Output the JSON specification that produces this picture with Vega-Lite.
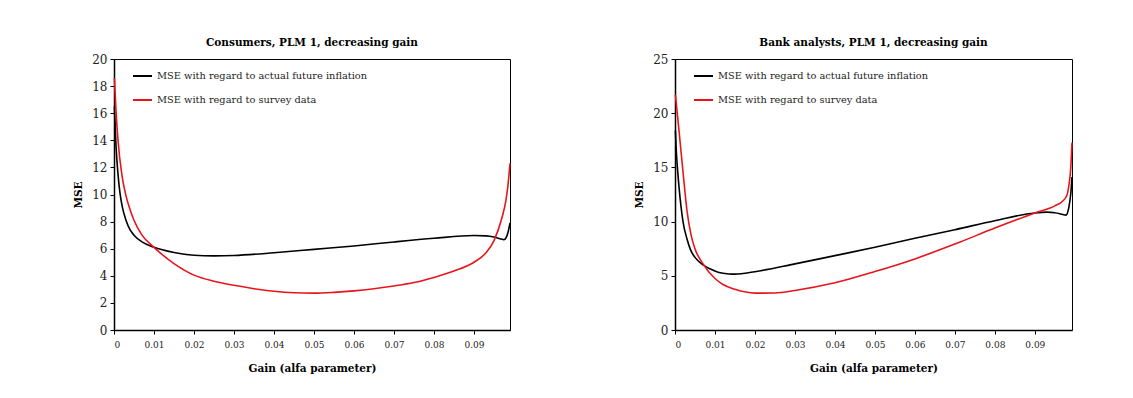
{
  "$schema": "https://vega.github.io/schema/vega-lite/v6.json",
  "padding": {"left": 73, "top": 37, "right": 5, "bottom": 5},
  "spacing": 120,
  "background": "white",
  "datasets": {
    "consumers": [
      {"gain": 0.0001, "mse": 16.5, "series": "MSE with regard to actual future inflation"},
      {"gain": 0.0005, "mse": 13.6, "series": "MSE with regard to actual future inflation"},
      {"gain": 0.001, "mse": 11.5, "series": "MSE with regard to actual future inflation"},
      {"gain": 0.0015, "mse": 10.1, "series": "MSE with regard to actual future inflation"},
      {"gain": 0.002, "mse": 9.2, "series": "MSE with regard to actual future inflation"},
      {"gain": 0.003, "mse": 8.1, "series": "MSE with regard to actual future inflation"},
      {"gain": 0.004, "mse": 7.4, "series": "MSE with regard to actual future inflation"},
      {"gain": 0.005, "mse": 7.0, "series": "MSE with regard to actual future inflation"},
      {"gain": 0.007, "mse": 6.5, "series": "MSE with regard to actual future inflation"},
      {"gain": 0.01, "mse": 6.1, "series": "MSE with regard to actual future inflation"},
      {"gain": 0.015, "mse": 5.72, "series": "MSE with regard to actual future inflation"},
      {"gain": 0.02, "mse": 5.52, "series": "MSE with regard to actual future inflation"},
      {"gain": 0.025, "mse": 5.47, "series": "MSE with regard to actual future inflation"},
      {"gain": 0.03, "mse": 5.5, "series": "MSE with regard to actual future inflation"},
      {"gain": 0.04, "mse": 5.7, "series": "MSE with regard to actual future inflation"},
      {"gain": 0.05, "mse": 5.95, "series": "MSE with regard to actual future inflation"},
      {"gain": 0.06, "mse": 6.2, "series": "MSE with regard to actual future inflation"},
      {"gain": 0.07, "mse": 6.5, "series": "MSE with regard to actual future inflation"},
      {"gain": 0.08, "mse": 6.77, "series": "MSE with regard to actual future inflation"},
      {"gain": 0.09, "mse": 6.97, "series": "MSE with regard to actual future inflation"},
      {"gain": 0.093, "mse": 6.95, "series": "MSE with regard to actual future inflation"},
      {"gain": 0.095, "mse": 6.86, "series": "MSE with regard to actual future inflation"},
      {"gain": 0.0965, "mse": 6.74, "series": "MSE with regard to actual future inflation"},
      {"gain": 0.0975, "mse": 6.67, "series": "MSE with regard to actual future inflation"},
      {"gain": 0.098, "mse": 6.8, "series": "MSE with regard to actual future inflation"},
      {"gain": 0.0985, "mse": 7.2, "series": "MSE with regard to actual future inflation"},
      {"gain": 0.099, "mse": 7.9, "series": "MSE with regard to actual future inflation"},
      {"gain": 0.0001, "mse": 18.6, "series": "MSE with regard to survey data"},
      {"gain": 0.0005, "mse": 16.2, "series": "MSE with regard to survey data"},
      {"gain": 0.001, "mse": 14.0, "series": "MSE with regard to survey data"},
      {"gain": 0.002, "mse": 11.4, "series": "MSE with regard to survey data"},
      {"gain": 0.003, "mse": 9.9, "series": "MSE with regard to survey data"},
      {"gain": 0.004, "mse": 8.9, "series": "MSE with regard to survey data"},
      {"gain": 0.005, "mse": 8.1, "series": "MSE with regard to survey data"},
      {"gain": 0.007, "mse": 7.0, "series": "MSE with regard to survey data"},
      {"gain": 0.01, "mse": 6.1, "series": "MSE with regard to survey data"},
      {"gain": 0.015, "mse": 4.9, "series": "MSE with regard to survey data"},
      {"gain": 0.02, "mse": 4.05, "series": "MSE with regard to survey data"},
      {"gain": 0.025, "mse": 3.6, "series": "MSE with regard to survey data"},
      {"gain": 0.03, "mse": 3.3, "series": "MSE with regard to survey data"},
      {"gain": 0.035, "mse": 3.05, "series": "MSE with regard to survey data"},
      {"gain": 0.04, "mse": 2.86, "series": "MSE with regard to survey data"},
      {"gain": 0.045, "mse": 2.75, "series": "MSE with regard to survey data"},
      {"gain": 0.05, "mse": 2.72, "series": "MSE with regard to survey data"},
      {"gain": 0.055, "mse": 2.78, "series": "MSE with regard to survey data"},
      {"gain": 0.06, "mse": 2.89, "series": "MSE with regard to survey data"},
      {"gain": 0.065, "mse": 3.05, "series": "MSE with regard to survey data"},
      {"gain": 0.07, "mse": 3.25, "series": "MSE with regard to survey data"},
      {"gain": 0.075, "mse": 3.5, "series": "MSE with regard to survey data"},
      {"gain": 0.08, "mse": 3.88, "series": "MSE with regard to survey data"},
      {"gain": 0.085, "mse": 4.35, "series": "MSE with regard to survey data"},
      {"gain": 0.09, "mse": 5.0, "series": "MSE with regard to survey data"},
      {"gain": 0.093, "mse": 5.7, "series": "MSE with regard to survey data"},
      {"gain": 0.095, "mse": 6.6, "series": "MSE with regard to survey data"},
      {"gain": 0.097, "mse": 8.3, "series": "MSE with regard to survey data"},
      {"gain": 0.098, "mse": 9.6, "series": "MSE with regard to survey data"},
      {"gain": 0.0985, "mse": 10.7, "series": "MSE with regard to survey data"},
      {"gain": 0.099, "mse": 12.3, "series": "MSE with regard to survey data"}
    ],
    "banks": [
      {"gain": 0.0001, "mse": 18.4, "series": "MSE with regard to actual future inflation"},
      {"gain": 0.0003, "mse": 16.7, "series": "MSE with regard to actual future inflation"},
      {"gain": 0.0006, "mse": 15.0, "series": "MSE with regard to actual future inflation"},
      {"gain": 0.001, "mse": 13.2, "series": "MSE with regard to actual future inflation"},
      {"gain": 0.0015, "mse": 11.4, "series": "MSE with regard to actual future inflation"},
      {"gain": 0.002, "mse": 10.0, "series": "MSE with regard to actual future inflation"},
      {"gain": 0.003, "mse": 8.4, "series": "MSE with regard to actual future inflation"},
      {"gain": 0.004, "mse": 7.3, "series": "MSE with regard to actual future inflation"},
      {"gain": 0.005, "mse": 6.7, "series": "MSE with regard to actual future inflation"},
      {"gain": 0.007, "mse": 6.0, "series": "MSE with regard to actual future inflation"},
      {"gain": 0.009, "mse": 5.6, "series": "MSE with regard to actual future inflation"},
      {"gain": 0.011, "mse": 5.3, "series": "MSE with regard to actual future inflation"},
      {"gain": 0.0135, "mse": 5.17, "series": "MSE with regard to actual future inflation"},
      {"gain": 0.015, "mse": 5.15, "series": "MSE with regard to actual future inflation"},
      {"gain": 0.02, "mse": 5.38, "series": "MSE with regard to actual future inflation"},
      {"gain": 0.03, "mse": 6.1, "series": "MSE with regard to actual future inflation"},
      {"gain": 0.04, "mse": 6.86, "series": "MSE with regard to actual future inflation"},
      {"gain": 0.05, "mse": 7.63, "series": "MSE with regard to actual future inflation"},
      {"gain": 0.06, "mse": 8.46, "series": "MSE with regard to actual future inflation"},
      {"gain": 0.07, "mse": 9.25, "series": "MSE with regard to actual future inflation"},
      {"gain": 0.08, "mse": 10.08, "series": "MSE with regard to actual future inflation"},
      {"gain": 0.09, "mse": 10.8, "series": "MSE with regard to actual future inflation"},
      {"gain": 0.093, "mse": 10.87, "series": "MSE with regard to actual future inflation"},
      {"gain": 0.095, "mse": 10.82, "series": "MSE with regard to actual future inflation"},
      {"gain": 0.097, "mse": 10.66, "series": "MSE with regard to actual future inflation"},
      {"gain": 0.0978, "mse": 10.6, "series": "MSE with regard to actual future inflation"},
      {"gain": 0.0985, "mse": 11.3, "series": "MSE with regard to actual future inflation"},
      {"gain": 0.099, "mse": 12.6, "series": "MSE with regard to actual future inflation"},
      {"gain": 0.0993, "mse": 14.1, "series": "MSE with regard to actual future inflation"},
      {"gain": 0.0001, "mse": 21.7, "series": "MSE with regard to survey data"},
      {"gain": 0.001, "mse": 18.4, "series": "MSE with regard to survey data"},
      {"gain": 0.002, "mse": 14.6, "series": "MSE with regard to survey data"},
      {"gain": 0.003, "mse": 11.0, "series": "MSE with regard to survey data"},
      {"gain": 0.004, "mse": 8.8, "series": "MSE with regard to survey data"},
      {"gain": 0.005, "mse": 7.5, "series": "MSE with regard to survey data"},
      {"gain": 0.007, "mse": 6.1, "series": "MSE with regard to survey data"},
      {"gain": 0.01, "mse": 4.75, "series": "MSE with regard to survey data"},
      {"gain": 0.012, "mse": 4.2, "series": "MSE with regard to survey data"},
      {"gain": 0.015, "mse": 3.75, "series": "MSE with regard to survey data"},
      {"gain": 0.02, "mse": 3.4, "series": "MSE with regard to survey data"},
      {"gain": 0.025, "mse": 3.42, "series": "MSE with regard to survey data"},
      {"gain": 0.03, "mse": 3.65, "series": "MSE with regard to survey data"},
      {"gain": 0.04, "mse": 4.35, "series": "MSE with regard to survey data"},
      {"gain": 0.05, "mse": 5.39, "series": "MSE with regard to survey data"},
      {"gain": 0.06, "mse": 6.56, "series": "MSE with regard to survey data"},
      {"gain": 0.07, "mse": 7.93, "series": "MSE with regard to survey data"},
      {"gain": 0.08, "mse": 9.4, "series": "MSE with regard to survey data"},
      {"gain": 0.09, "mse": 10.8, "series": "MSE with regard to survey data"},
      {"gain": 0.095, "mse": 11.45, "series": "MSE with regard to survey data"},
      {"gain": 0.097, "mse": 11.9, "series": "MSE with regard to survey data"},
      {"gain": 0.098, "mse": 12.4, "series": "MSE with regard to survey data"},
      {"gain": 0.0985, "mse": 13.3, "series": "MSE with regard to survey data"},
      {"gain": 0.099, "mse": 15.0, "series": "MSE with regard to survey data"},
      {"gain": 0.0993, "mse": 17.3, "series": "MSE with regard to survey data"}
    ]
  },
  "hconcat": [
    {
      "width": 396,
      "height": 271,
      "title": "Consumers, PLM 1, decreasing gain",
      "data": {"name": "consumers"},
      "mark": {"type": "line", "interpolate": "monotone", "strokeWidth": 1.6},
      "encoding": {
        "x": {"field": "gain", "type": "quantitative", "title": "Gain (alfa parameter)",
              "scale": {"domain": [0, 0.099], "nice": false, "zero": true},
              "axis": {"values": [0, 0.01, 0.02, 0.03, 0.04, 0.05, 0.06, 0.07, 0.08, 0.09], "format": ".2~f"}},
        "y": {"field": "mse", "type": "quantitative", "title": "MSE",
              "scale": {"domain": [0, 20], "nice": false},
              "axis": {"values": [0, 2, 4, 6, 8, 10, 12, 14, 16, 18, 20]}},
        "color": {"field": "series", "type": "nominal",
                  "scale": {"domain": ["MSE with regard to actual future inflation", "MSE with regard to survey data"], "range": ["#000000", "#e8141c"]},
                  "legend": {"title": null}}
      }
    },
    {
      "width": 397,
      "height": 271,
      "title": "Bank analysts, PLM 1, decreasing gain",
      "data": {"name": "banks"},
      "mark": {"type": "line", "interpolate": "monotone", "strokeWidth": 1.6},
      "encoding": {
        "x": {"field": "gain", "type": "quantitative", "title": "Gain (alfa parameter)",
              "scale": {"domain": [0, 0.0993], "nice": false, "zero": true},
              "axis": {"values": [0, 0.01, 0.02, 0.03, 0.04, 0.05, 0.06, 0.07, 0.08, 0.09], "format": ".2~f"}},
        "y": {"field": "mse", "type": "quantitative", "title": "MSE",
              "scale": {"domain": [0, 25], "nice": false},
              "axis": {"values": [0, 5, 10, 15, 20, 25]}},
        "color": {"field": "series", "type": "nominal",
                  "scale": {"domain": ["MSE with regard to actual future inflation", "MSE with regard to survey data"], "range": ["#000000", "#e8141c"]},
                  "legend": {"title": null}}
      }
    }
  ],
  "resolve": {"scale": {"color": "independent"}, "legend": {"color": "independent"}},
  "config": {
    "font": "DejaVu Serif",
    "view": {"stroke": "#000000", "strokeWidth": 1},
    "title": {"font": "DejaVu Serif", "fontSize": 10.5, "fontWeight": "bold", "color": "#000000", "offset": 5, "anchor": "middle"},
    "axis": {
      "grid": false,
      "domainColor": "#000000",
      "domainWidth": 1.5,
      "tickColor": "#000000",
      "tickSize": 4,
      "labelColor": "#222222",
      "labelFont": "DejaVu Serif",
      "titleFont": "DejaVu Serif",
      "titleColor": "#000000",
      "titleFontWeight": "bold",
      "titleFontSize": 10.5
    },
    "axisX": {"labelFontSize": 9, "labelPadding": 6, "titlePadding": 14},
    "axisY": {"labelFontSize": 12, "labelPadding": 3, "titlePadding": 8},
    "legend": {
      "orient": "none",
      "legendX": 18,
      "legendY": 6.5,
      "symbolType": "stroke",
      "symbolSize": 361,
      "symbolStrokeWidth": 2,
      "labelFontSize": 9.8,
      "labelFont": "DejaVu Serif",
      "labelColor": "#222222",
      "labelOffset": 4,
      "rowPadding": 8,
      "labelLimit": 400
    }
  }
}
